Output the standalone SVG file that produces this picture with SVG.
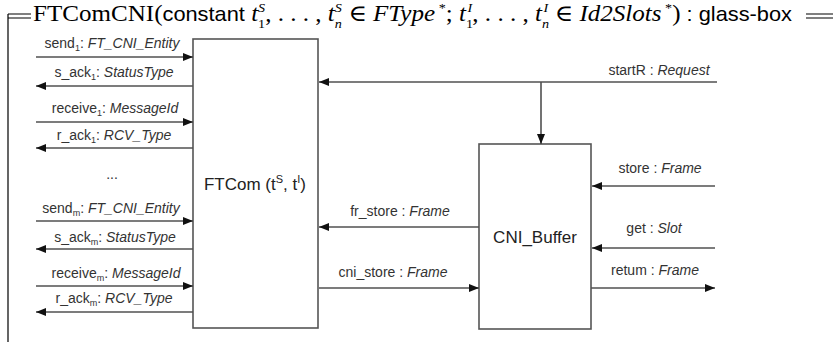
<svg xmlns="http://www.w3.org/2000/svg" width="839" height="354" viewBox="0 0 839 354">
  <defs>
    <marker id="ah" viewBox="0 0 10 8" refX="10" refY="4" markerWidth="11" markerHeight="8" markerUnits="userSpaceOnUse" orient="auto">
      <path d="M0,0 L10,4 L0,8 z" fill="#111"/>
    </marker>
    <style>
      .frame { stroke: #000; stroke-width: 1.2; fill: none; }
      .box { fill: #fff; stroke: #555; stroke-width: 1.6; }
      .wire { stroke: #505050; stroke-width: 1.6; fill: none; marker-end: url(#ah); }
      .lbl { font-family: "Liberation Sans", Arial, sans-serif; font-size: 14px; fill: #333; text-anchor: middle; }
      .it { font-style: italic; }
      .sub { font-size: 9px; }
      .name { font-family: "Liberation Sans", Arial, sans-serif; font-size: 17px; fill: #222; text-anchor: middle; }
      .rm { font-family: "Liberation Serif", "DejaVu Serif", serif; font-size: 23px; fill: #000; }
      .mi { font-family: "Liberation Serif", "DejaVu Serif", serif; font-style: italic; }
      .sf { font-family: "Liberation Sans", "DejaVu Sans", sans-serif; font-size: 20px; font-style: normal; }
      .ss { font-size: 13px; }
    </style>
  </defs>

  <!-- schema frame with its heading -->
  <g id="frame">
    <path class="frame" d="M8,14 H31 M8,18 H31 M8,14 V342"/>
    <path class="frame" d="M806,14 H833 M806,18 H833"/>
    <g transform="translate(33,0) scale(1.09,1)">
      <text class="rm" x="0" y="21">FTComCNI(<tspan class="sf">constant</tspan> <tspan class="mi">t</tspan><tspan class="ss" dy="7">1</tspan><tspan class="ss mi" dx="-6.5" dy="-16">S</tspan><tspan dy="9">, . . . , </tspan><tspan class="mi">t</tspan><tspan class="ss mi" dy="7">n</tspan><tspan class="ss mi" dx="-6.5" dy="-16">S</tspan><tspan dy="9"> ∈ </tspan><tspan class="mi">FType</tspan><tspan class="ss" dy="-9"> *</tspan><tspan dy="9">; </tspan><tspan class="mi">t</tspan><tspan class="ss" dy="7">1</tspan><tspan class="ss mi" dx="-5" dy="-16">I</tspan><tspan dy="9">, . . . , </tspan><tspan class="mi">t</tspan><tspan class="ss mi" dy="7">n</tspan><tspan class="ss mi" dx="-5" dy="-16">I</tspan><tspan dy="9"> ∈ </tspan><tspan class="mi">Id2Slots</tspan><tspan class="ss" dy="-9"> *</tspan><tspan dy="9">)</tspan><tspan class="sf" font-size="13px"> : </tspan><tspan class="sf">glass-box</tspan></text>
    </g>
  </g>

  <!-- components -->
  <g id="ftcom">
    <rect class="box" x="193" y="39" width="125" height="289"/>
    <text class="name" x="255" y="190">FTCom (t<tspan font-size="11px" dy="-7">S</tspan><tspan dy="7">, t</tspan><tspan font-size="11px" dy="-7">I</tspan><tspan dy="7">)</tspan></text>
  </g>
  <g id="cni_buffer">
    <rect class="box" x="479" y="144" width="112" height="185"/>
    <text class="name" x="535" y="243">CNI_Buffer</text>
  </g>

  <!-- connectors -->
  <g id="connectors">
    <path class="wire" d="M36,57 H193"/>
    <path class="wire" d="M193,86 H36"/>
    <path class="wire" d="M36,122 H193"/>
    <path class="wire" d="M193,148 H36"/>
    <path class="wire" d="M36,221 H193"/>
    <path class="wire" d="M193,249 H36"/>
    <path class="wire" d="M36,286 H193"/>
    <path class="wire" d="M193,312 H36"/>

    <path class="wire" d="M717,82 H319"/>
    <path class="wire" d="M541,82 V144"/>
    <path class="wire" d="M479,227 H319"/>
    <path class="wire" d="M319,288 H479"/>
    <path class="wire" d="M715,186 H592"/>
    <path class="wire" d="M715,248 H592"/>
    <path class="wire" d="M591,288 H715"/>
  </g>

  <!-- connector labels -->
  <g id="labels">
    <text class="lbl" x="112" y="48">send<tspan class="sub" dy="3">1</tspan><tspan dy="-3">: </tspan><tspan class="it">FT_CNI_Entity</tspan></text>
    <text class="lbl" x="114" y="77">s_ack<tspan class="sub" dy="3">1</tspan><tspan dy="-3">: </tspan><tspan class="it">StatusType</tspan></text>
    <text class="lbl" x="115" y="113">receive<tspan class="sub" dy="3">1</tspan><tspan dy="-3">: </tspan><tspan class="it">MessageId</tspan></text>
    <text class="lbl" x="114" y="140">r_ack<tspan class="sub" dy="3">1</tspan><tspan dy="-3">: </tspan><tspan class="it">RCV_Type</tspan></text>
    <text class="lbl" x="112" y="179">...</text>
    <text class="lbl" x="111" y="213">send<tspan class="sub" dy="3">m</tspan><tspan dy="-3">: </tspan><tspan class="it">FT_CNI_Entity</tspan></text>
    <text class="lbl" x="115" y="242">s_ack<tspan class="sub" dy="3">m</tspan><tspan dy="-3">: </tspan><tspan class="it">StatusType</tspan></text>
    <text class="lbl" x="116" y="278">receive<tspan class="sub" dy="3">m</tspan><tspan dy="-3">: </tspan><tspan class="it">MessageId</tspan></text>
    <text class="lbl" x="114" y="303">r_ack<tspan class="sub" dy="3">m</tspan><tspan dy="-3">: </tspan><tspan class="it">RCV_Type</tspan></text>

    <text class="lbl" x="659" y="75">startR : <tspan class="it">Request</tspan></text>
    <text class="lbl" x="400" y="216">fr_store : <tspan class="it">Frame</tspan></text>
    <text class="lbl" x="393" y="277">cni_store : <tspan class="it">Frame</tspan></text>
    <text class="lbl" x="660" y="173">store : <tspan class="it">Frame</tspan></text>
    <text class="lbl" x="654" y="233">get : <tspan class="it">Slot</tspan></text>
    <text class="lbl" x="655" y="275">retum : <tspan class="it">Frame</tspan></text>
  </g>
</svg>
